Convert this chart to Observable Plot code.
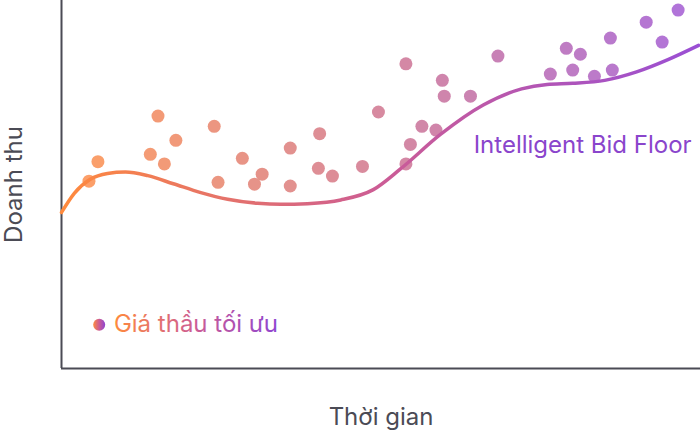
<!DOCTYPE html>
<html>
<head>
<meta charset="utf-8">
<script src="https://cdn.jsdelivr.net/npm/d3@7"></script>
<script src="https://cdn.jsdelivr.net/npm/@observablehq/plot@0.6"></script>
<style>
  html, body { margin: 0; padding: 0; background: #fff; }
</style>
</head>
<body>
<div id="chart"></div>
<script>
// Scatter observations (time, revenue) in arbitrary units 0–100
const pointTime = [4.3, 5.7, 15.1, 13.9, 17.9, 16.1, 23.9, 24.5, 28.3, 31.4, 30.2, 35.8, 35.8, 40.4, 40.2, 42.4,
  47.1, 49.6, 53.9, 54.6, 53.9, 56.4, 58.6, 59.6, 59.9, 64.0, 68.3, 76.5, 79.0, 81.2, 80.0, 83.4, 85.9, 86.2, 91.5, 94.0, 96.5];
const pointRevenue = [50.9, 56.2, 68.6, 58.2, 62.0, 55.6, 65.8, 50.6, 57.1, 52.8, 50.1, 59.9, 49.6, 63.8, 54.4, 52.3,
  54.9, 69.7, 82.8, 60.9, 55.6, 65.8, 64.8, 78.3, 74.0, 74.0, 84.9, 80.0, 87.0, 85.4, 81.1, 79.4, 89.8, 81.1, 94.1, 88.7, 97.4];

// Intelligent Bid Floor curve
const curveTime = [0, 2.0, 4.5, 7.2, 10.0, 13.5, 17.5, 21.8, 26.0, 30.7, 34.3, 38.5, 43.7, 48.8, 53.1, 59.3, 66.0, 72.0, 76.0, 80.0, 85.0, 90.0, 95.0, 99.7];
const curveRevenue = [42.4, 47.6, 51.4, 53.0, 53.4, 52.4, 50.2, 47.8, 46.0, 44.9, 44.6, 44.8, 45.8, 48.6, 54.3, 63.6, 71.6, 76.0, 77.2, 77.5, 78.3, 80.6, 84.0, 87.8];

const xLabel = "Thời gian";
const yLabel = "Doanh thu";
const curveLabel = "Intelligent Bid Floor";
const legendLabel = "Giá thầu tối ưu";

const orange = "#ff8a3d";
const purple = "#9a4fd4";

const points = pointTime.map((t, i) => ({t, r: pointRevenue[i]}));
const curve = curveTime.map((t, i) => ({t, r: curveRevenue[i]}));

const plot = Plot.plot({
  width: 700,
  height: 432,
  marginLeft: 61,
  marginRight: 0,
  marginTop: 0,
  marginBottom: 64,
  style: {fontFamily: "Inter, 'Noto Sans', sans-serif", background: "#fff"},
  x: {domain: [0, 100], axis: null},
  y: {domain: [0, 100], axis: null},
  color: {type: "linear", domain: [0, 100], range: [orange, purple], interpolate: "rgb"},
  marks: [
    Plot.ruleX([0], {stroke: "#4b4b55", strokeWidth: 2}),
    Plot.ruleY([0], {stroke: "#4b4b55", strokeWidth: 2}),
    Plot.dot(points, {x: "t", y: "r", r: 6.5, fill: "t", fillOpacity: 0.8, stroke: "none"}),
    Plot.line(curve, {x: "t", y: "r", curve: "monotone-x", stroke: "url(#curveGrad)", strokeWidth: 3.5, strokeLinecap: "round"}),
    Plot.text([curveLabel], {x: 64.5, y: 60.6, text: d => d, textAnchor: "start", fontSize: 24, fill: "#8a45cc"}),
    Plot.dot([0], {x: 5.9, y: 11.9, r: 6, fill: "url(#legendGrad)", stroke: "none"}),
    Plot.text([legendLabel], {x: 8.2, y: 11.9, text: d => d, textAnchor: "start", fontSize: 24, fill: "url(#legendGrad)"}),
    Plot.text([xLabel], {frameAnchor: "bottom", lineAnchor: "middle", dy: 49, text: d => d, fontSize: 24, fill: "#4b4b55"}),
    Plot.text([yLabel], {frameAnchor: "left", textAnchor: "middle", lineAnchor: "middle", dx: -47, rotate: -90, text: d => d, fontSize: 24, fill: "#4b4b55"})
  ]
});

const svg = d3.select(plot);
const defs = svg.insert("defs", ":first-child");
const g1 = defs.append("linearGradient").attr("id", "curveGrad").attr("x1", "0%").attr("x2", "100%").attr("y1", "0%").attr("y2", "0%");
g1.append("stop").attr("offset", "0%").attr("stop-color", orange);
g1.append("stop").attr("offset", "50%").attr("stop-color", "#cc5c95");
g1.append("stop").attr("offset", "100%").attr("stop-color", purple);
const g2 = defs.append("linearGradient").attr("id", "legendGrad").attr("x1", "0%").attr("x2", "100%").attr("y1", "0%").attr("y2", "0%");
g2.append("stop").attr("offset", "0%").attr("stop-color", orange);
g2.append("stop").attr("offset", "50%").attr("stop-color", "#cc5c95");
g2.append("stop").attr("offset", "100%").attr("stop-color", "#8f45d0");

document.getElementById("chart").appendChild(plot);
</script>
</body>
</html>
